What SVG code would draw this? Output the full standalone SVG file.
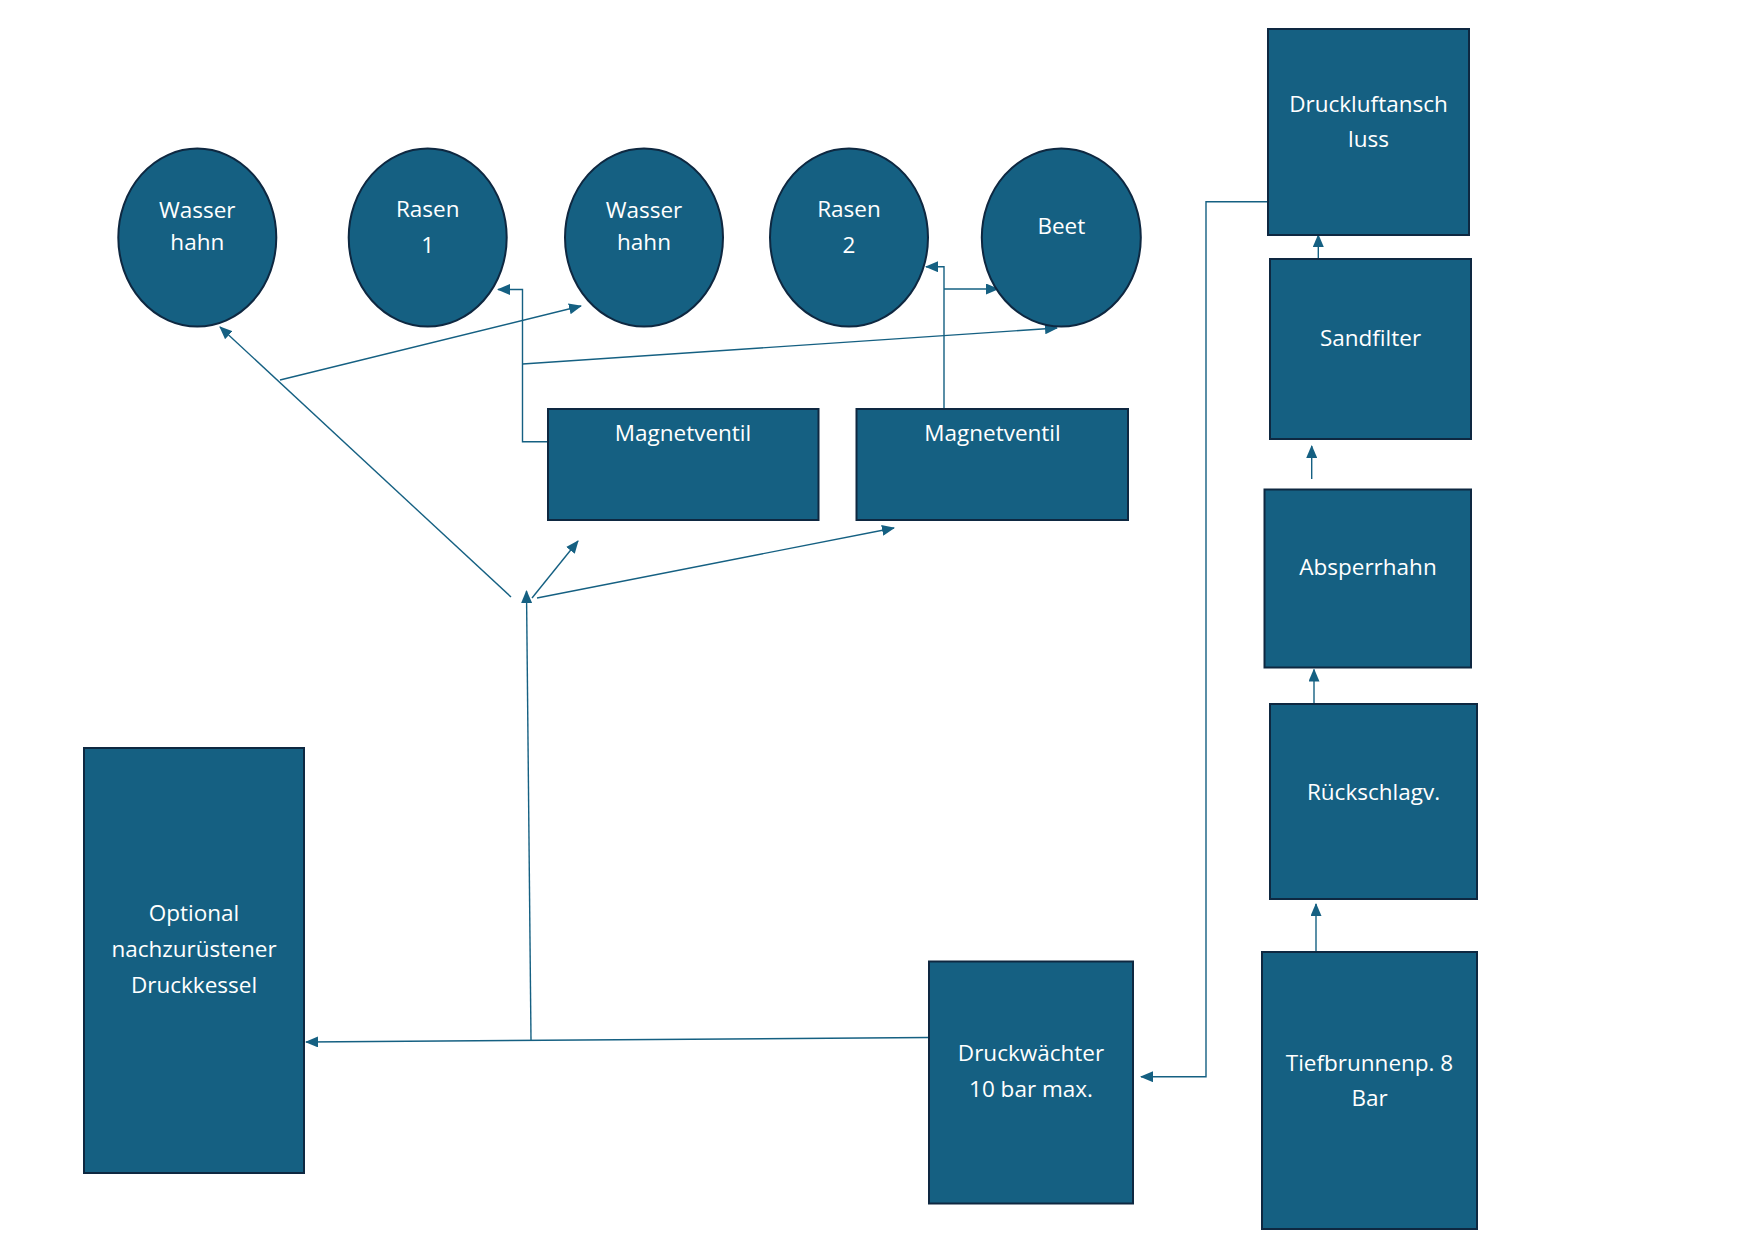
<svg xmlns="http://www.w3.org/2000/svg" width="1753" height="1240" viewBox="0 0 1753 1240">
<style>
.n{fill:#156082;stroke:#0E2841;stroke-width:2}
.t{fill:#FFFFFF;font-family:"Open Sans","Liberation Sans",sans-serif;font-size:22.5px;text-anchor:middle;dominant-baseline:central}
.c{fill:none;stroke:#156082;stroke-width:1.4}
</style>
<defs>
<marker id="arr" viewBox="0 0 13 11" refX="12" refY="5.5" markerWidth="13" markerHeight="11" markerUnits="userSpaceOnUse" orient="auto">
<path d="M0,0 L13,5.5 L0,11 z" fill="#156082"/>
</marker>
</defs>
<rect width="1753" height="1240" fill="#FFFFFF"/>
<g id="connectors">
<path class="c" d="M929,1037.5 L306,1042" marker-end="url(#arr)"/>
<path class="c" d="M531,1040 L526.5,591" marker-end="url(#arr)"/>
<path class="c" d="M511,597 L220,327" marker-end="url(#arr)"/>
<path class="c" d="M280,380 L581,306" marker-end="url(#arr)"/>
<path class="c" d="M548,441.7 H522.5 V289.5 H498" marker-end="url(#arr)"/>
<path class="c" d="M522.5,364 L1057,328" marker-end="url(#arr)"/>
<path class="c" d="M944,409 V266.7 H926" marker-end="url(#arr)"/>
<path class="c" d="M944,289 H998" marker-end="url(#arr)"/>
<path class="c" d="M537,598 L894,528" marker-end="url(#arr)"/>
<path class="c" d="M532,598 L578,541" marker-end="url(#arr)"/>
<path class="c" d="M1268,201.7 H1206 V1076.7 H1141" marker-end="url(#arr)"/>
<path class="c" d="M1318.3,259 V235" marker-end="url(#arr)"/>
<path class="c" d="M1311.7,479 V446" marker-end="url(#arr)"/>
<path class="c" d="M1314,704 V669.5" marker-end="url(#arr)"/>
<path class="c" d="M1316,951 V904" marker-end="url(#arr)"/>
</g>
<g id="wasserhahn1"><ellipse class="n" cx="197.3" cy="237.6" rx="79" ry="89"/><text class="t" x="197.3" y="209">Wasser</text><text class="t" x="197.3" y="241.3">hahn</text></g>
<g id="rasen1"><ellipse class="n" cx="427.7" cy="237.6" rx="79" ry="89"/><text class="t" x="427.7" y="208">Rasen</text><text class="t" x="427.7" y="244">1</text></g>
<g id="wasserhahn2"><ellipse class="n" cx="644" cy="237.6" rx="79" ry="89"/><text class="t" x="644" y="209">Wasser</text><text class="t" x="644" y="241.3">hahn</text></g>
<g id="rasen2"><ellipse class="n" cx="849" cy="237.6" rx="79" ry="89"/><text class="t" x="849" y="208">Rasen</text><text class="t" x="849" y="244">2</text></g>
<g id="beet"><ellipse class="n" cx="1061.3" cy="237.6" rx="79.5" ry="89"/><text class="t" x="1061.3" y="225.5">Beet</text></g>
<g id="magnetventil1"><rect class="n" x="548" y="409" width="270.5" height="111"/><text class="t" x="683" y="432">Magnetventil</text></g>
<g id="magnetventil2"><rect class="n" x="856.5" y="409" width="271.5" height="111"/><text class="t" x="992.5" y="432">Magnetventil</text></g>
<g id="druckluftanschluss"><rect class="n" x="1268" y="29" width="201" height="206"/><text class="t" x="1368.5" y="103">Druckluftansch</text><text class="t" x="1368.5" y="138">luss</text></g>
<g id="sandfilter"><rect class="n" x="1270" y="259" width="201" height="180"/><text class="t" x="1370.5" y="337.5">Sandfilter</text></g>
<g id="absperrhahn"><rect class="n" x="1264.5" y="489.5" width="206.5" height="178"/><text class="t" x="1368" y="566">Absperrhahn</text></g>
<g id="rueckschlagventil"><rect class="n" x="1270" y="704" width="207" height="195"/><text class="t" x="1373.5" y="791">Rückschlagv.</text></g>
<g id="tiefbrunnenpumpe"><rect class="n" x="1262" y="952" width="215" height="277"/><text class="t" x="1369.5" y="1062.5">Tiefbrunnenp. 8</text><text class="t" x="1369.5" y="1097">Bar</text></g>
<g id="druckwaechter"><rect class="n" x="929" y="961.5" width="204" height="242"/><text class="t" x="1031" y="1052.5">Druckwächter</text><text class="t" x="1031" y="1088">10 bar max.</text></g>
<g id="druckkessel"><rect class="n" x="84" y="748" width="220" height="425"/><text class="t" x="194" y="912.5">Optional</text><text class="t" x="194" y="948.3">nachzurüstener</text><text class="t" x="194" y="984">Druckkessel</text></g>
</svg>
